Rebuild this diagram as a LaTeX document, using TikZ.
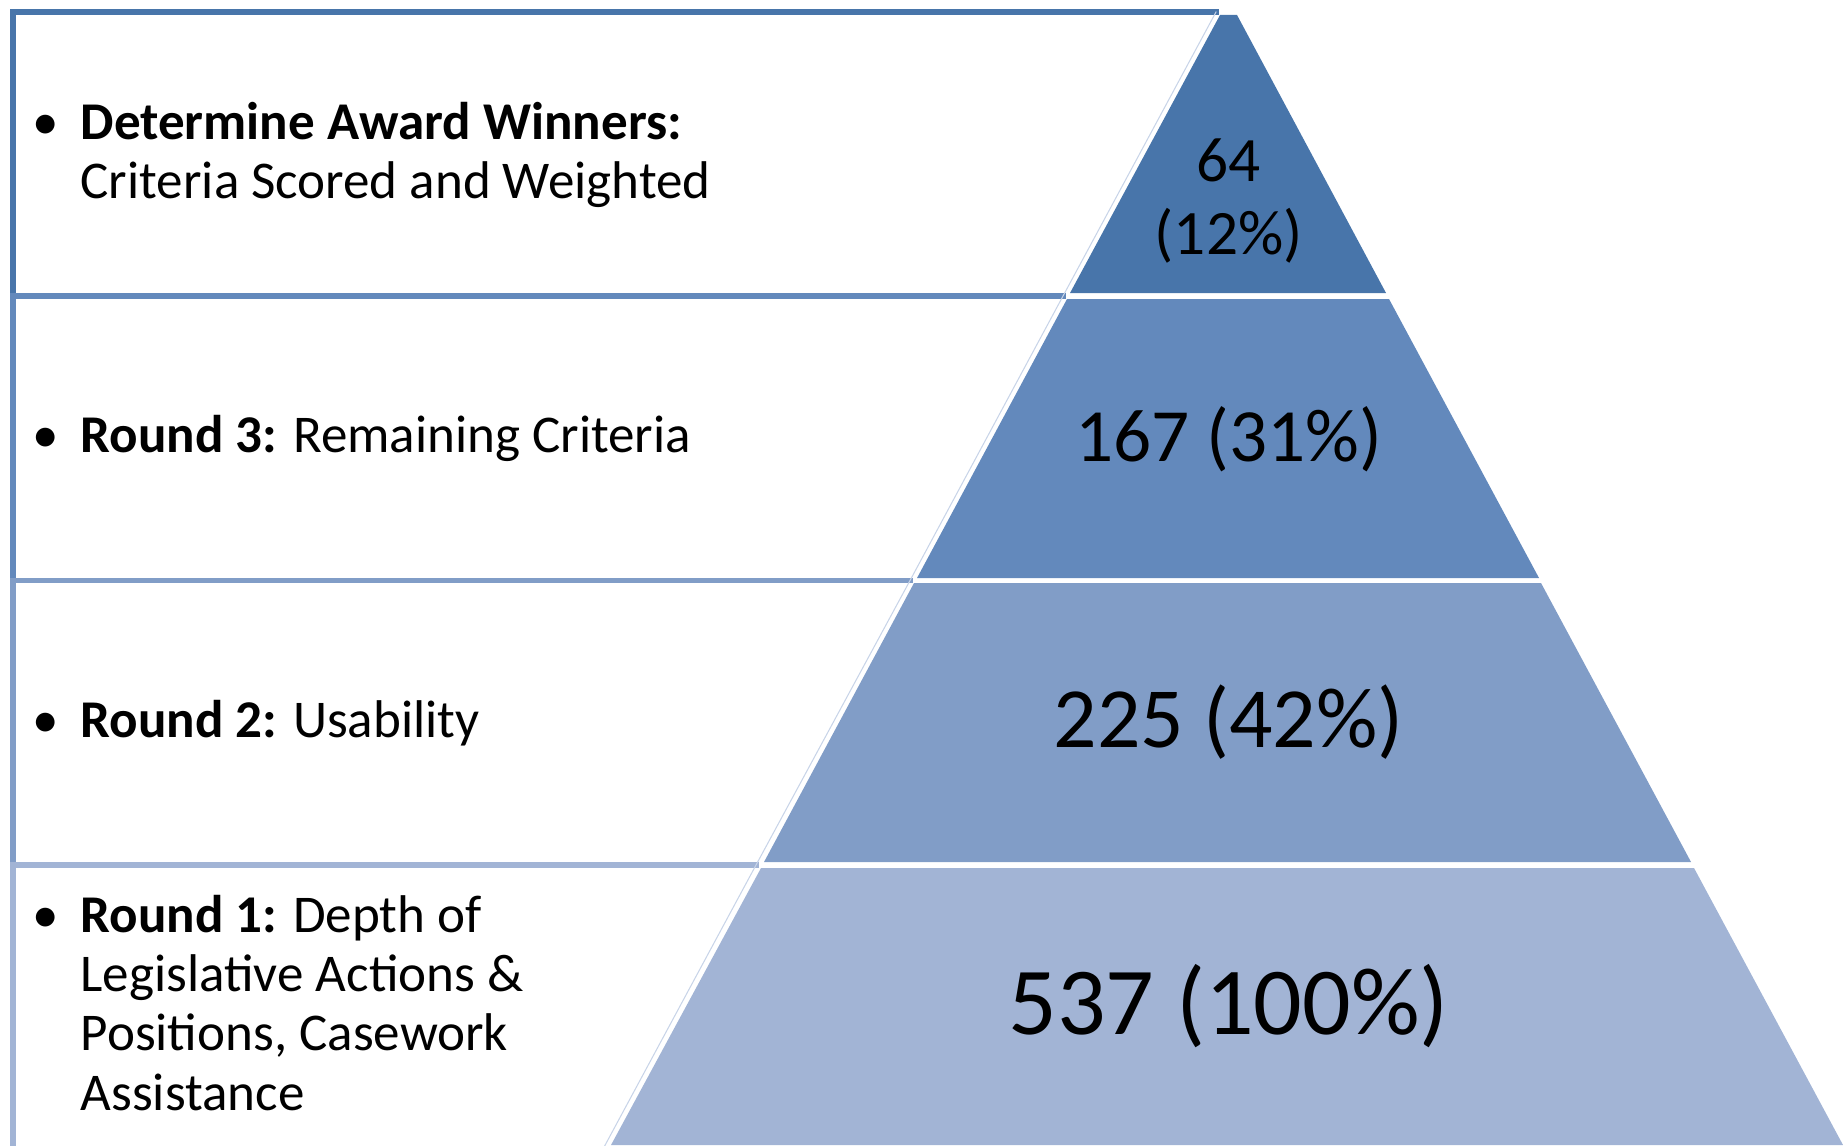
\documentclass[tikz,border=0pt]{standalone}
\usepackage{fontspec}
\setmainfont{Carlito}
\definecolor{bandA}{RGB}{72,117,170}
\definecolor{bandB}{RGB}{99,137,188}
\definecolor{bandC}{RGB}{129,157,199}
\definecolor{bandD}{RGB}{162,180,213}
\definecolor{faintline}{RGB}{200,212,232}
\begin{document}
\begin{tikzpicture}[line join=miter, line cap=rect]
	\tikzset{box line/.style={line width=1.5pt},
		item/.style={anchor=west,inner sep=0pt,align=left,font=\fontsize{15.1}{16.8}\selectfont},
		count/.style={inner sep=0pt,align=center}}
	\useasboundingbox (0,0) rectangle (18.43,11.45);
	\clip (0,0) rectangle (18.43,11.45);
	\draw[box line,bandA] (12.16,11.33)--(0.13,11.33)--(0.13,8.49)--(10.63,8.49);
	\draw[box line,bandB] (10.63,8.49)--(0.13,8.49)--(0.13,5.645)--(9.10,5.645);
	\draw[box line,bandC] (9.10,5.645)--(0.13,5.645)--(0.13,2.80)--(7.56,2.80);
	\draw[box line,bandD] (7.56,2.80)--(0.13,2.80)--(0.13,-0.2);
	\draw[faintline,line width=0.3pt] (12.16,11.33)--(10.63,8.49)--(9.10,5.645)--(7.56,2.80)--(6.03,-0.04);
	\fill[bandA] (12.20,11.30)--(12.37,11.30)--(13.86,8.52)--(10.70,8.52)--cycle;
	\fill[bandB] (10.67,8.46)--(13.89,8.46)--(15.39,5.67)--(9.17,5.67)--cycle;
	\fill[bandC] (9.14,5.62)--(15.41,5.62)--(16.91,2.83)--(7.64,2.83)--cycle;
	\fill[bandD] (7.61,2.77)--(16.94,2.77)--(18.43,0)--(6.11,0)--cycle;
	\node[item] (award) at (0.80,9.90) {\llap{•\hspace{0.22cm}}\textbf{Determine Award Winners:}\\Criteria Scored and Weighted};
	\node[item] (round3) at (0.80,7.07) {\llap{•\hspace{0.22cm}}\textbf{Round 3:} Remaining Criteria};
	\node[item] (round2) at (0.80,4.22) {\llap{•\hspace{0.22cm}}\textbf{Round 2:} Usability};
	\node[item] (round1) at (0.80,1.42) {\llap{•\hspace{0.22cm}}\textbf{Round 1:} Depth of\\Legislative Actions \&\\Positions, Casework\\Assistance};
	\node[count,font=\fontsize{18}{20.9}\selectfont] (top) at (12.286,9.44) {64\\(12\%)};
	\node[count,font=\fontsize{21.4}{25}\selectfont] (third) at (12.286,7.055) {167 (31\%)};
	\node[count,font=\fontsize{24.4}{28}\selectfont] (second) at (12.286,4.23) {225 (42\%)};
	\node[count,font=\fontsize{27.3}{32}\selectfont] (first) at (12.286,1.39) {537 (100\%)};
\end{tikzpicture}
\end{document}
